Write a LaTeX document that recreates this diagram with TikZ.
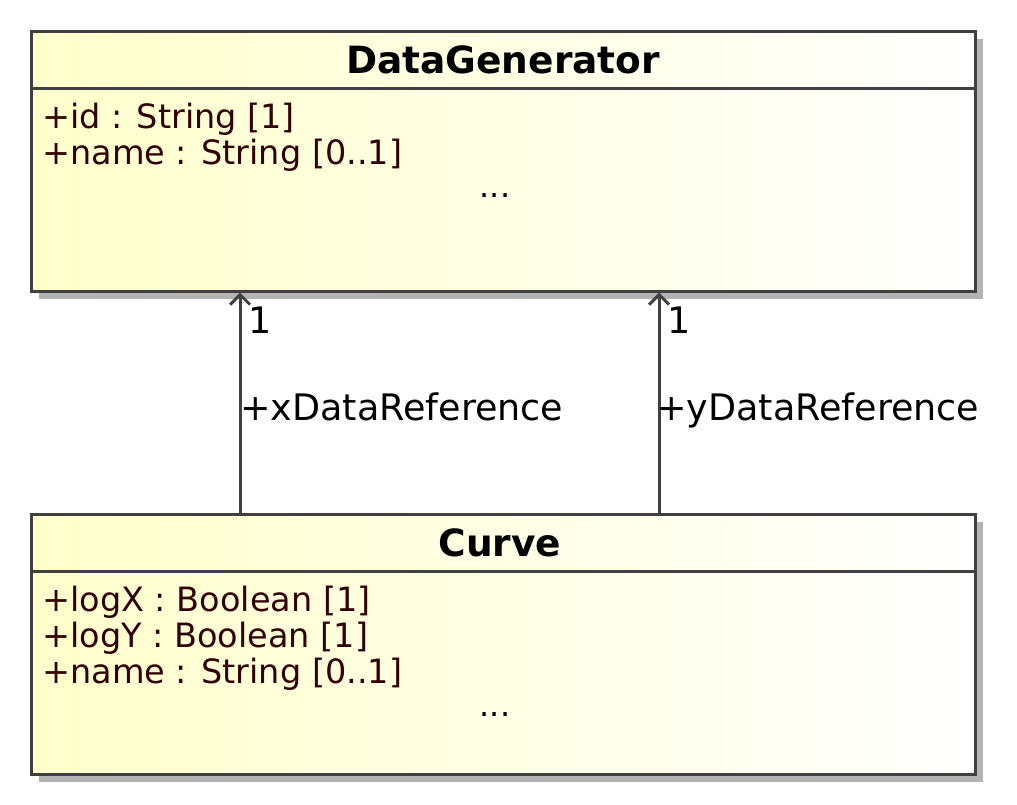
\documentclass[tikz,border=0pt]{standalone}
\usepackage{fontspec}
\setmainfont{DejaVu Sans}
\usetikzlibrary{arrows.meta}
\definecolor{umlline}{RGB}{64,64,64}
\definecolor{umlshadow}{RGB}{179,179,179}
\definecolor{umlfill}{RGB}{255,255,204}
\definecolor{attrtext}{RGB}{51,0,0}
\tikzset{
  classbox/.style={draw=umlline, line width=3pt, left color=umlfill, right color=white,
    minimum width=944pt, minimum height=260pt, inner sep=0pt},
  titletext/.style={font=\fontsize{37.5}{40}\selectfont\bfseries, text=black, inner sep=0pt, anchor=base},
  attrtext/.style={font=\fontsize{33.5}{36}\selectfont, text=attrtext, inner sep=0pt, anchor=base west},
  dots/.style={font=\fontsize{32}{36}\selectfont, text=black, inner sep=0pt, anchor=base},
  assoc/.style={draw=umlline, line width=3pt, -{Straight Barb[length=10pt, width=20pt, line width=3pt]}},
  rolelabel/.style={font=\fontsize{36.5}{40}\selectfont, text=black, inner sep=0pt, anchor=base west},
}
\begin{document}
\begin{tikzpicture}[x=1pt, y=-1pt]
\useasboundingbox (0,0) rectangle (1017,804);
% shadows
\fill[umlshadow] (39,39) rectangle (983,299);
\fill[umlshadow] (39,522) rectangle (983,782);
% boxes
\node[classbox] (dg) at (503,161) {};
\node[classbox] (cv) at (503,644) {};
\draw[umlline, line width=3pt] (31,88) coordinate (dgdl) -- (975,88) coordinate (dgdr);
\draw[umlline, line width=3pt] (31,571) coordinate (cvdl) -- (975,571) coordinate (cvdr);
% titles
\node[titletext] (dgt) at (503,73) {DataGenerator};
\node[titletext] (cvt) at (500,556) {Curve};
% attributes
\node[attrtext] (a1) at (42,128) {+id : String [1]};
\node[attrtext] (a2) at (42,164) {+name : String [0..1]};
\node[dots] (d1) at (495,197) {...};
\node[attrtext] (b1) at (42,611) {+logX : Boolean [1]};
\node[attrtext] (b2) at (42,647) {+logY : Boolean [1]};
\node[attrtext] (b3) at (42,683) {+name : String [0..1]};
\node[dots] (d2) at (495,716) {...};
% associations
\coordinate (xs) at (240,514);
\coordinate (ys) at (659,514);
\draw[assoc] (cv.north -| xs) -- (dg.south -| xs);
\draw[assoc] (cv.north -| ys) -- (dg.south -| ys);
\node[rolelabel] (m1) at (248,333) {1};
\node[rolelabel] (m2) at (667,333) {1};
\node[rolelabel] (l1) at (240,420) {+xDataReference};
\node[rolelabel] (l2) at (656,420) {+yDataReference};
\end{tikzpicture}
\end{document}
